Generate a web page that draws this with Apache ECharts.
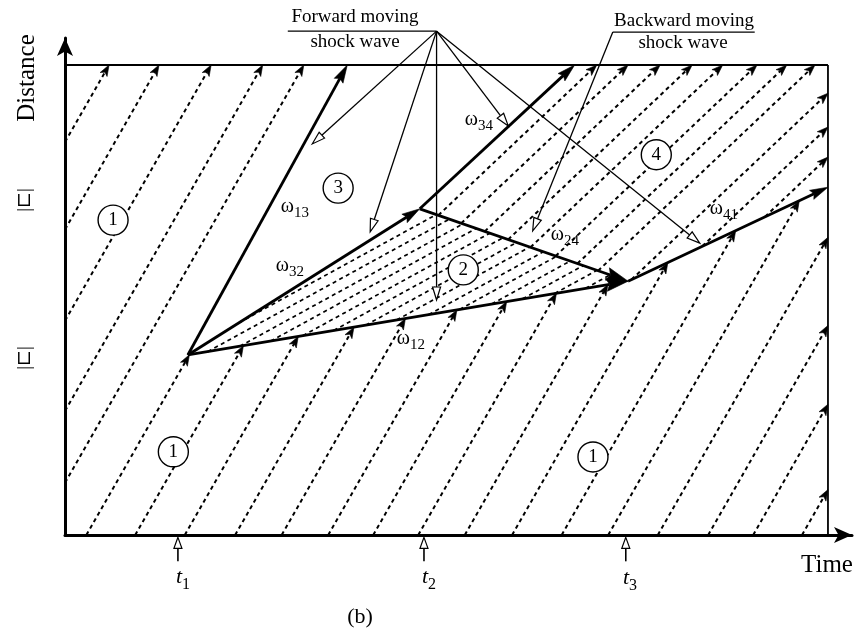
<!DOCTYPE html>
<html>
<head>
<meta charset="utf-8">
<script src="https://cdn.jsdelivr.net/npm/echarts@6/dist/echarts.min.js"></script>
<style>
  html, body { margin: 0; padding: 0; background: #fff; }
  #main { width: 863px; height: 633px; }
</style>
</head>
<body>
<div id="main"></div>
<script>
var serif = '"Liberation Serif", "DejaVu Serif", serif';

// shock wave corners, [time, distance]; the box runs 0..100 on both axes
var ptA = [16.1, 38.3];
var ptB = [46.5, 69.4];
var ptC = [73.8, 54.0];
var top13 = [37.0, 100];
var top34 = [66.8, 100];
var right41 = [100, 74.0];

// vehicle paths in state 1
var r1Slope = 2.84;
var r1BottomStarts = [2.8, 9.2, 15.7, 22.3, 28.4, 34.5, 40.4, 46.3, 52.4, 58.6, 65.1, 71.2, 77.7, 84.3, 90.2, 96.6];
var r1AxisStarts = [11.1, 26.4, 45.6, 65.0, 83.6];

// vehicle paths in state 2 (distance where each crosses r2RefTime)
var r2Slope = 0.89;
var r2RefTime = 47.8;
var r2Dists = [67.4, 64.9, 62.3, 59.8, 57.2, 54.7, 52.1, 49.6, 47.0, 44.5, 41.9, 39.4, 36.8, 34.3, 31.7];

// vehicle paths in state 4
var r4Slope = 1.54;
var r4TopTimes = [69.7, 73.8, 78.0, 82.2, 86.2, 90.7, 94.6, 98.3];
var r4RightDists = [94.0, 86.8, 80.4];

// label pointers
var fwdApex = [48.7, 107.2];
var fwdLineStart = 29.2;
var fwdTargets = [[32.4, 83.2], [40.0, 64.5], [48.7, 50.0], [58.1, 87.0], [83.2, 62.1]];
var bwdLineEnds = [90.4, 71.8];
var bwdLineDist = 107.0;
var bwdTarget = [61.3, 64.7];

// time marks
var tMarks = [14.8, 47.05, 73.5];

// circled state numbers
var circleTimes = [6.3, 35.8, 52.2, 77.5, 14.2, 69.2];
var circleDists = [67.0, 73.8, 56.4, 80.9, 17.7, 16.6];
var circleNames = ['1', '3', '2', '4', '1', '1'];

// ---- geometry helpers ----
function clip(p, d, poly) {
  var n = poly.length, cx = 0, cy = 0;
  poly.forEach(function (q) { cx += q[0]; cy += q[1]; });
  cx /= n; cy /= n;
  var lo = -1e9, hi = 1e9;
  for (var i = 0; i < n; i++) {
    var a = poly[i], b = poly[(i + 1) % n];
    var ex = b[0] - a[0], ey = b[1] - a[1];
    var sgn = (ex * (cy - a[1]) - ey * (cx - a[0])) > 0 ? 1 : -1;
    var f0 = sgn * (ex * (p[1] - a[1]) - ey * (p[0] - a[0]));
    var fd = sgn * (ex * d[1] - ey * d[0]);
    if (Math.abs(fd) < 1e-12) { if (f0 < 0) return null; }
    else if (fd > 0) lo = Math.max(lo, -f0 / fd);
    else hi = Math.min(hi, -f0 / fd);
  }
  return lo < hi ? [lo, hi] : null;
}
function along(p, d, u) { return [p[0] + u * d[0], p[1] + u * d[1]]; }

var boxPoly = [[0, 0], [100, 0], [100, 100], [0, 100]];
var jamPoly = [top13, ptA, ptC, right41, [100, 100]];
var tri2 = [ptA, ptC, ptB];
var poly4 = [ptB, ptC, right41, [100, 100], top34];

var r1Segs = [], r2Segs = [], r4Segs = [];
function addR1(p) {
  var dir = [1, r1Slope];
  var box = clip(p, dir, boxPoly);
  if (!box) return;
  var cut = clip(p, dir, jamPoly);
  var parts = [];
  if (!cut || cut[1] <= box[0] || cut[0] >= box[1]) parts.push(box);
  else {
    if (cut[0] > box[0]) parts.push([box[0], cut[0]]);
    if (cut[1] < box[1]) parts.push([cut[1], box[1]]);
  }
  parts.forEach(function (u) {
    if (u[1] - u[0] < 0.3) return;
    var a = along(p, dir, u[0]), b = along(p, dir, u[1]);
    r1Segs.push([a[0], a[1], b[0], b[1]]);
  });
}
function addIn(p, slope, poly, out) {
  var dir = [1, slope];
  var u = clip(p, dir, poly);
  if (!u || u[1] - u[0] < 0.3) return;
  var a = along(p, dir, u[0]), b = along(p, dir, u[1]);
  out.push([a[0], a[1], b[0], b[1]]);
}
r1BottomStarts.forEach(function (t) { addR1([t, 0]); });
r1AxisStarts.forEach(function (d) { addR1([0, d]); });
r2Dists.forEach(function (d) { addIn([r2RefTime, d], r2Slope, tri2, r2Segs); });
r4TopTimes.forEach(function (t) { addIn([t, 100], r4Slope, poly4, r4Segs); });
r4RightDists.forEach(function (d) { addIn([100, d], r4Slope, poly4, r4Segs); });

function seg(a, b) { return [a[0], a[1], b[0], b[1]]; }
var frameSegs = [[0, 100, 100, 100], [100, 100, 100, 0]];
var shockSegs = [seg(ptA, top13), seg(ptA, ptB), seg(ptB, top34), seg(ptC, right41)];
var shockBigSegs = [seg(ptA, ptC), seg(ptB, ptC)];
var plainSegs = [[fwdLineStart, fwdApex[1], fwdApex[0], fwdApex[1]],
                 [bwdLineEnds[0], bwdLineDist, bwdLineEnds[1], bwdLineDist]];
var pointerSegs = fwdTargets.map(function (q) { return seg(fwdApex, q); });
pointerSegs.push(seg([bwdLineEnds[1], bwdLineDist], bwdTarget));
var tSegs = tMarks.map(function (t) { return [t, -5.6, t, -0.5]; });

function headPts(tip, from, len, wid, notch) {
  var dx = tip[0] - from[0], dy = tip[1] - from[1];
  var L = Math.sqrt(dx * dx + dy * dy) || 1;
  var ux = dx / L, uy = dy / L, nx = -uy, ny = ux;
  var bx = tip[0] - ux * len, by = tip[1] - uy * len;
  var mx = tip[0] - ux * len * (1 - notch), my = tip[1] - uy * len * (1 - notch);
  return [[tip[0], tip[1]], [bx + nx * wid / 2, by + ny * wid / 2], [mx, my], [bx - nx * wid / 2, by - ny * wid / 2]];
}

function segSeries(segs, opt) {
  return {
    type: 'custom',
    coordinateSystem: 'cartesian2d',
    silent: true,
    clip: false,
    animation: false,
    z: opt.z || 2,
    data: segs,
    renderItem: function (params, api) {
      var p1 = api.coord([api.value(0), api.value(1)]);
      var p2 = api.coord([api.value(2), api.value(3)]);
      var end = p2;
      var kids = [];
      var head = null;
      if (opt.head) {
        head = headPts(p2, p1, opt.head[0], opt.head[1], opt.head[2]);
        if (opt.hollow) end = [(head[1][0] + head[3][0]) / 2, (head[1][1] + head[3][1]) / 2];
        else end = head[2];
      }
      var ls = { stroke: '#000', lineWidth: opt.width, fill: null };
      if (opt.dash) ls.lineDash = opt.dash;
      kids.push({ type: 'line', shape: { x1: p1[0], y1: p1[1], x2: end[0], y2: end[1] }, style: ls });
      if (head) {
        kids.push({
          type: 'polygon', shape: { points: head },
          style: opt.hollow ? { fill: '#fff', stroke: '#000', lineWidth: 1.2 } : { fill: '#000', stroke: '#000', lineWidth: 0.6 }
        });
      }
      return { type: 'group', children: kids };
    }
  };
}

var circleData = circleTimes.map(function (t, i) { return { value: [t, circleDists[i]], name: circleNames[i] }; });

function txt(x, y, s, size, extra) {
  var o = { type: 'text', x: x, y: y, z: 20, silent: true,
    style: { text: s, font: (extra && extra.italic ? 'italic ' : '') + size + 'px ' + serif, fill: '#000',
      align: (extra && extra.align) || 'center', verticalAlign: 'middle',
      textAlign: (extra && extra.align) || 'center', textVerticalAlign: 'middle' } };
  if (extra && extra.rotation) o.rotation = extra.rotation;
  return o;
}
function omega(split, y, sub) {
  return [txt(split, y, 'ω', 20, { align: 'right' }), txt(split, y + 6, sub, 15, { align: 'left' })];
}
function tLabel(split, y, sub) {
  return [txt(split, y, 't', 22, { align: 'right', italic: true }), txt(split, y + 8, sub, 16, { align: 'left' })];
}

var graphics = [
  txt(27, 78, 'Distance', 25, { rotation: Math.PI / 2 }),
  txt(25, 200, '|⊏|', 19, { rotation: Math.PI / 2 }),
  txt(25, 358, '|⊏|', 19, { rotation: Math.PI / 2 }),
  txt(355, 17, 'Forward moving', 19),
  txt(355, 42, 'shock wave', 19),
  txt(684, 21, 'Backward moving', 19),
  txt(683, 43, 'shock wave', 19),
  txt(827, 565, 'Time', 25),
  txt(360, 617, '(b)', 22)
].concat(
  omega(294, 207, '13'), omega(289, 266, '32'), omega(478, 120, '34'),
  omega(564, 235, '24'), omega(410, 339, '12'), omega(723, 209, '41'),
  tLabel(182, 577, '1'), tLabel(428, 577, '2'), tLabel(629, 578, '3')
);

var chart = echarts.init(document.getElementById('main'));
chart.setOption({
  backgroundColor: '#fff',
  animation: false,
  grid: { left: 65, right: 11, top: 38, bottom: 98 },
  xAxis: {
    type: 'value', min: 0, max: 103.15,
    axisLine: { show: true, onZero: false, symbol: ['none', 'arrow'], symbolSize: [12, 18], lineStyle: { color: '#000', width: 3 } },
    axisTick: { show: false }, axisLabel: { show: false }, splitLine: { show: false }
  },
  yAxis: {
    type: 'value', min: 0, max: 105.74,
    axisLine: { show: true, onZero: false, symbol: ['none', 'arrow'], symbolSize: [12, 18], lineStyle: { color: '#000', width: 3 } },
    axisTick: { show: false }, axisLabel: { show: false }, splitLine: { show: false }
  },
  graphic: graphics,
  series: [
    segSeries(frameSegs, { width: 1.8 }),
    segSeries(r1Segs, { width: 2, dash: [4, 3.5], head: [11, 8, 0.25] }),
    segSeries(r2Segs, { width: 1.7, dash: [4, 3.5] }),
    segSeries(r4Segs, { width: 2, dash: [4, 3.5], head: [11, 8, 0.25] }),
    segSeries(shockSegs, { width: 2.8, head: [18, 10, 0.15], z: 4 }),
    segSeries(shockBigSegs, { width: 2.8, head: [22, 13, 0.15], z: 4 }),
    segSeries(plainSegs, { width: 1.3, z: 6 }),
    segSeries(pointerSegs, { width: 1.3, head: [13, 8, 0], hollow: true, z: 6 }),
    segSeries(tSegs, { width: 1.6, head: [11, 8, 0], hollow: true, z: 6 }),
    {
      type: 'scatter', z: 8, silent: true, animation: false,
      symbol: 'circle', symbolSize: 30,
      itemStyle: { color: '#fff', borderColor: '#000', borderWidth: 1.4, opacity: 1 },
      label: { show: true, position: 'inside', formatter: '{b}', color: '#000', fontSize: 19, fontFamily: serif },
      data: circleData
    }
  ]
});
</script>
</body>
</html>
